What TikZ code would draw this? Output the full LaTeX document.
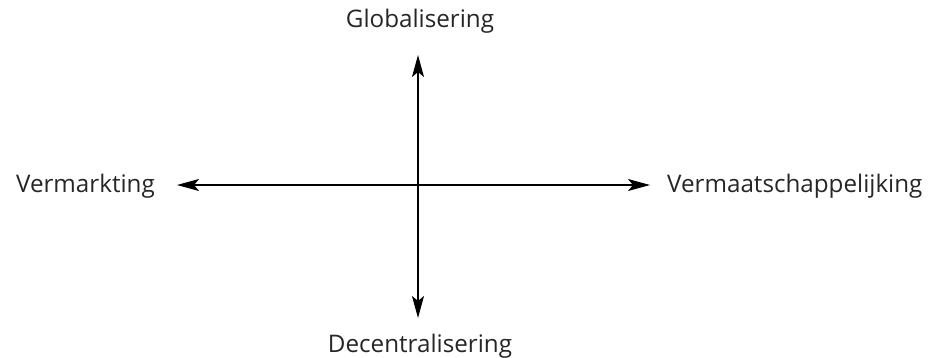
\documentclass[tikz,border=0pt]{standalone}
\usepackage{fontspec}
\setmainfont{Open Sans}
\usetikzlibrary{arrows.meta,positioning}

\tikzset{
  axislabel/.style={inner sep=0pt,font=\fontsize{24.2}{28}\selectfont,text=black!85},
  axisarrow/.style={line width=1.2pt,{Stealth[length=22pt,width=12pt,inset=5pt]}-{Stealth[length=22pt,width=12pt,inset=5pt]}}
}

\begin{document}
\begin{tikzpicture}[x=1pt,y=1pt]
    \useasboundingbox (0,0) rectangle (929,357);

    % ends of the two axes
    \coordinate (top) at (418,302);
    \coordinate (bottom) at (418,39);
    \coordinate (left) at (177,172);
    \coordinate (right) at (650,172);

    % labels
    \node [axislabel,anchor=base] (glob) at (420,329) {Globalisering};
    \node [axislabel,anchor=base] (decen) at (420,5) {Decentralisering};
    \node [axislabel,anchor=base east] (markt) at (155,165) {Vermarkting};
    \node [axislabel,anchor=base west] (maat) at (667,165) {Vermaatschappelijking};

    % axes
    \draw [axisarrow] (top) -- (bottom);
    \draw [axisarrow] (left) -- (right);
\end{tikzpicture}
\end{document}
